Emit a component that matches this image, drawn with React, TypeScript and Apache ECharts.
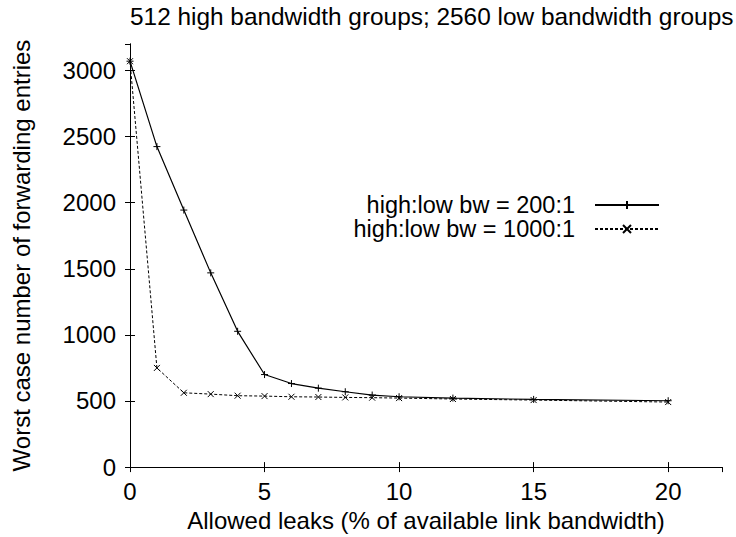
import React, { useEffect, useRef } from "react";
import * as echarts from "echarts";

const leaks = [0, 1, 2, 3, 4, 5, 6, 7, 8, 9, 10, 12, 15, 20];
const entries200 = [3070, 2424, 1944, 1469, 1027, 700, 632, 597, 570, 545, 532, 522, 512, 502];
const entries1000 = [3070, 750, 562, 552, 540, 537, 532, 530, 527, 525, 522, 515, 507, 492];
const seriesNames = ["high:low bw = 200:1", "high:low bw = 1000:1"];
const titleText = "512 high bandwidth groups; 2560 low bandwidth groups";
const xName = "Allowed leaks (% of available link bandwidth)";
const yName = "Worst case number of forwarding entries";

const FONT = "Liberation Sans, Arial, Helvetica, sans-serif";
const FS = 24;
const PLUS = "path://M0,5L10,5M5,0L5,10";
const CROSS = "path://M0,0L10,10M10,0L0,10";

export default function App() {
  const ref = useRef<HTMLDivElement>(null);
  useEffect(() => {
    if (!ref.current) return;
    const chart = echarts.init(ref.current, null, { renderer: "svg" });
    const pair = (ys: number[]) => leaks.map((x, i) => [x, ys[i]]);
    const axisLine = { show: true, lineStyle: { color: "#000", width: 1 } };
    const tick = { show: true, inside: true, length: 5, lineStyle: { color: "#000" } };
    chart.setOption({
      animation: false,
      backgroundColor: "#fff",
      textStyle: { fontFamily: FONT },
      title: {
        text: titleText,
        left: 130,
        top: 4,
        padding: 0,
        textStyle: { fontFamily: FONT, fontSize: 24.4, fontWeight: "normal", color: "#000" },
      },
      legend: {
        orient: "vertical",
        right: 76,
        top: 193,
        padding: 0,
        align: "right",
        itemWidth: 64,
        itemHeight: 10,
        itemGap: 0,
        textStyle: {
          fontFamily: FONT,
          fontSize: 23.5,
          lineHeight: 23,
          color: "#000",
          width: 250,
          align: "right",
          padding: [0, 15, 0, 0],
        },
        data: seriesNames,
      },
      grid: { left: 130, right: 14, top: 44, bottom: 66, show: false },
      xAxis: [
        {
          type: "value",
          min: 0,
          max: 22,
          interval: 5,
          axisLine,
          axisTick: tick,
          axisLabel: { fontFamily: FONT, fontSize: FS, color: "#000", margin: 12, showMaxLabel: false },
          splitLine: { show: false },
          name: xName,
          nameLocation: "middle",
          nameGap: 37,
          nameTextStyle: { fontFamily: FONT, fontSize: FS, color: "#000" },
        },
        {
          type: "value",
          position: "top",
          min: 0,
          max: 22,
          interval: 5,
          axisLine,
          axisTick: tick,
          axisLabel: { show: false },
          splitLine: { show: false },
        },
      ],
      yAxis: [
        {
          type: "value",
          min: 0,
          max: 3200,
          interval: 500,
          axisLine,
          axisTick: tick,
          axisLabel: {
            fontFamily: FONT,
            fontSize: FS,
            color: "#000",
            margin: 14,
            showMaxLabel: false,
            formatter: (v: number) => String(v),
          },
          splitLine: { show: false },
          name: yName,
          nameLocation: "middle",
          nameGap: 97,
          nameTextStyle: { fontFamily: FONT, fontSize: FS, color: "#000" },
        },
        {
          type: "value",
          position: "right",
          min: 0,
          max: 3200,
          interval: 500,
          axisLine,
          axisTick: tick,
          axisLabel: { show: false },
          splitLine: { show: false },
        },
      ],
      series: [
        {
          name: seriesNames[0],
          type: "line",
          data: pair(entries200),
          symbol: PLUS,
          symbolSize: 7,
          showAllSymbol: true,
          lineStyle: { color: "#000", width: 1.2, type: "solid" },
          itemStyle: { color: "#000", borderColor: "#000", borderWidth: 1 },
          z: 3,
        },
        {
          name: seriesNames[1],
          type: "line",
          data: pair(entries1000),
          symbol: CROSS,
          symbolSize: 6,
          showAllSymbol: true,
          lineStyle: { color: "#000", width: 1, type: [3, 2] },
          itemStyle: { color: "#000", borderColor: "#000", borderWidth: 1 },
          z: 2,
        },
      ],
    });
    return () => chart.dispose();
  }, []);
  return (
    <div
      ref={ref}
      style={{ position: "absolute", left: 0, top: 0, width: 736, height: 537 }}
    />
  );
}
